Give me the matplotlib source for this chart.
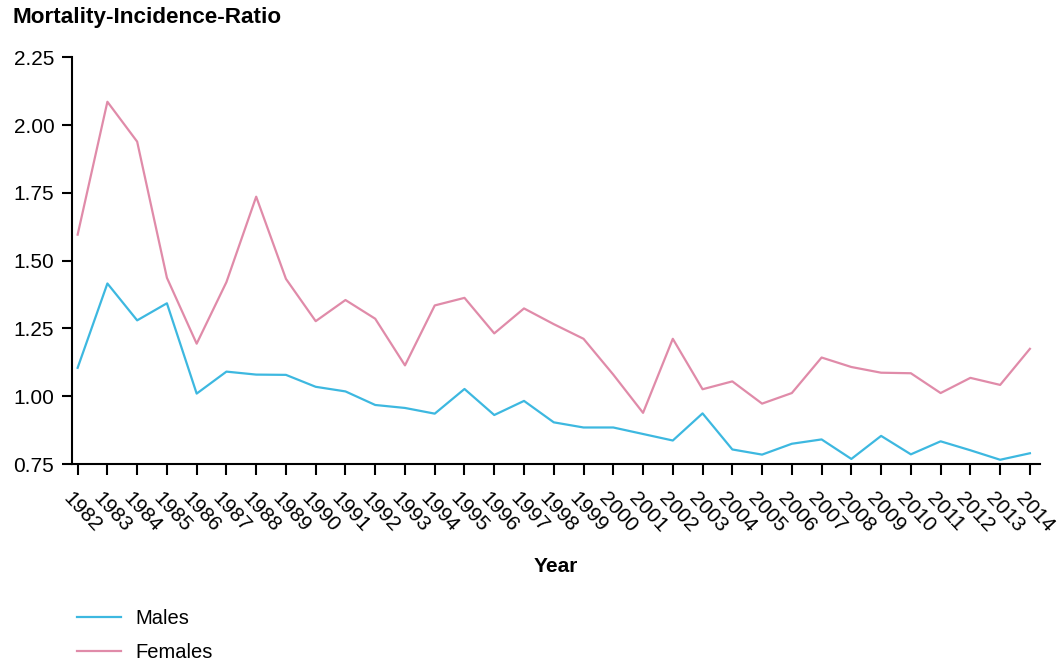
import matplotlib
matplotlib.use("Agg")
import matplotlib.pyplot as plt
from matplotlib.transforms import ScaledTranslation

plt.rcParams['font.family'] = ['Liberation Sans', 'DejaVu Sans']

years = list(range(1982, 2015))
males = [1.105, 1.416, 1.280, 1.343, 1.010, 1.091, 1.080, 1.079, 1.035, 1.018,
         0.968, 0.957, 0.936, 1.027, 0.931, 0.983, 0.904, 0.885, 0.885, 0.861,
         0.837, 0.937, 0.804, 0.785, 0.825, 0.841, 0.769, 0.854, 0.786, 0.834,
         0.801, 0.766, 0.790]
females = [1.596, 2.086, 1.939, 1.437, 1.194, 1.421, 1.736, 1.433, 1.277, 1.355,
           1.286, 1.114, 1.335, 1.363, 1.232, 1.324, 1.266, 1.212, 1.080, 0.939,
           1.212, 1.026, 1.055, 0.973, 1.012, 1.143, 1.108, 1.087, 1.085, 1.012,
           1.068, 1.042, 1.175]
yticks = [0.75, 1.00, 1.25, 1.50, 1.75, 2.00, 2.25]

male_color = "#3DB8E0"
female_color = "#E08BA9"

fig = plt.figure(figsize=(10.62, 6.63), dpi=100)
ax = fig.add_axes([0.0675, 0.300, 0.9118, 0.6136])

ax.plot(years, males, color=male_color, lw=1.6, label="Males")
ax.plot(years, females, color=female_color, lw=1.6, label="Females")

ax.set_xlim(1981.8, 2014.34)
ax.set_ylim(0.75, 2.25)
ax.set_yticks(yticks)
ax.set_yticklabels([f"{v:.2f}" for v in yticks])
ax.set_xticks(years)
ax.set_xticklabels([str(y) for y in years])

for s in ["top", "right"]:
    ax.spines[s].set_visible(False)
for s in ["left", "bottom"]:
    ax.spines[s].set_linewidth(1.5)
    ax.spines[s].set_color("black")

ax.tick_params(axis="y", direction="out", length=7.5, width=1.5, pad=5, labelsize=15)
ax.tick_params(axis="x", direction="out", length=8, width=1.5, pad=10, labelsize=15)

off = ScaledTranslation(-4 / 100, 0, fig.dpi_scale_trans)
for lbl in ax.get_xticklabels():
    lbl.set_rotation(-47)
    lbl.set_ha("left")
    lbl.set_va("top")
    lbl.set_rotation_mode("anchor")
    lbl.set_transform(lbl.get_transform() + off)

fig.text(12 / 1062, 1 - 18 / 663, "Mortality-Incidence-Ratio", fontsize=16.2,
         fontweight="bold", ha="left", va="center")
fig.text(556 / 1062, 1 - 567 / 663, "Year", fontsize=15, fontweight="bold",
         ha="center", va="center")

fig.legend(loc="upper left", bbox_to_anchor=(77 / 1062, 1 - 609 / 663),
           frameon=False, fontsize=14.5, handlelength=2.2, handletextpad=0.7,
           labelspacing=0.75, borderaxespad=0, borderpad=0)

fig.savefig("out.png", dpi=100)
